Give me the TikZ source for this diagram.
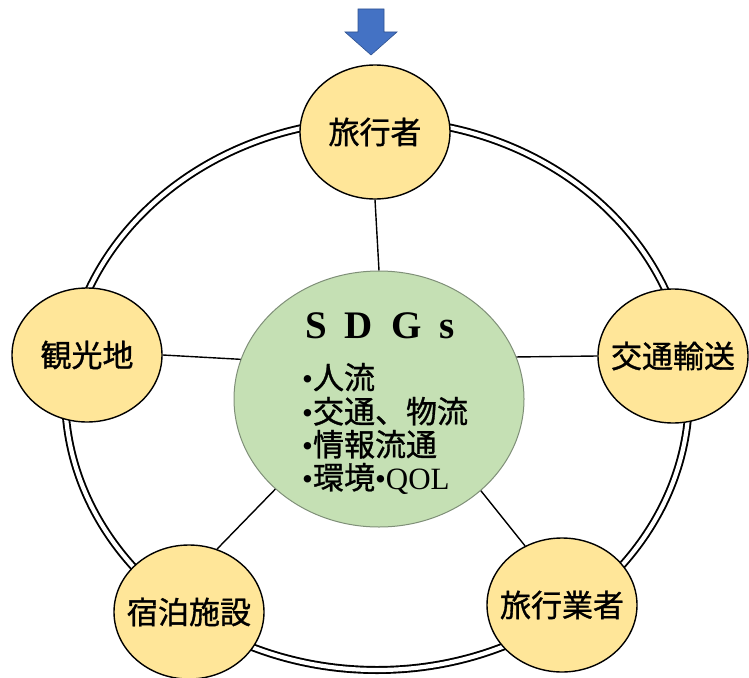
\documentclass[tikz,border=0pt]{standalone}
\usepackage{fontspec}
\setmainfont{Liberation Serif}
\newfontfamily\jpfont{Noto Sans CJK JP}[FakeBold=1]
\usetikzlibrary{shapes.geometric}
\definecolor{nodeyellow}{HTML}{FFE699}
\definecolor{coregreen}{HTML}{C5E0B4}
\definecolor{coreedge}{HTML}{7F8F78}
\definecolor{arrowblue}{HTML}{4472C4}
\definecolor{arrowedge}{HTML}{2F528F}
\newcommand{\lbl}[1]{\makebox[0pt]{#1}}

\begin{document}
\begin{tikzpicture}[x=1pt,y=-1pt,
  actor/.style={ellipse,draw,line width=1.4pt,fill=nodeyellow,minimum width=150pt,minimum height=134pt,inner sep=0pt,font=\jpfont\fontsize{31}{31}\selectfont},
  core/.style={ellipse,draw=coreedge,line width=1pt,fill=coregreen,minimum width=290pt,minimum height=256pt,inner sep=0pt},
  item/.style={anchor=base west,inner sep=0pt,font=\jpfont\fontsize{31}{31}\selectfont},
  link/.style={line width=1.4pt},
  ring/.style={line width=1.9pt,double=white,double distance=4.2pt}]
  \useasboundingbox (0,0) rectangle (749,677);
  % outer ring
  \draw[ring] (377,395) ellipse [x radius=312pt, y radius=275pt];
  % SDGs core
  \node[core] (sdgs) at (379,399) {};
  \node[font=\bfseries\fontsize{39}{39}\selectfont,inner sep=0pt] (title) at (380,326) {S\hspace{18pt}D\hspace{18pt}G\hspace{18pt}s};
  \foreach \y/\txt [count=\i] in {389/人流,423/交通、物流,456/情報流通,489/環境{\rmfamily •QOL}}
    \node[item] (item\i) at (302,\y) {{\rmfamily •}\txt};
  % stakeholders
  \node[actor] (traveler)  at (375,132) {\lbl{旅行者}};
  \node[actor] (sight)     at (87,355)  {\lbl{観光地}};
  \node[actor] (transport) at (673,356) {\lbl{交通輸送}};
  \node[actor] (lodging)   at (189,612) {\lbl{宿泊施設}};
  \node[actor] (agency)    at (562,605) {\lbl{旅行業者}};
  % links to the core
  \draw[link] (traveler.south) -- (sdgs.north);
  \draw[link] (sight.east) -- (sdgs.164);
  \draw[link] (transport.west) -- (sdgs.17);
  \draw[link] (lodging.66) -- (sdgs.221);
  \draw[link] (agency.122) -- (sdgs.318);
  % entry arrow
  \fill[arrowblue,draw=arrowedge,line width=0.6pt] (358,9) -- (384,9) -- (384,32) -- (397,32)
    -- (371,55) -- (345,32) -- (358,32) -- cycle;
\end{tikzpicture}
\end{document}
